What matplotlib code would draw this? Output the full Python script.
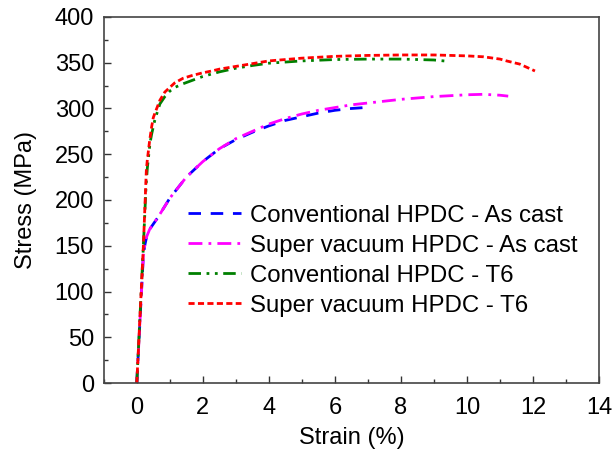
import matplotlib
matplotlib.use("Agg")
import matplotlib.pyplot as plt
from matplotlib.ticker import MultipleLocator

plt.rcParams['font.family'] = ['Liberation Sans', 'DejaVu Sans']

conv_cast_x = [0, 0.1, 0.2, 0.24, 0.3, 0.39, 0.64, 1.0, 1.5, 2.0, 2.5, 3.0, 3.5, 4.0, 4.5, 5.0, 5.5, 6.0, 6.5, 6.9]
conv_cast_y = [0, 70, 140, 150, 160, 168, 181, 202, 225, 242, 256, 266, 274, 281, 287, 291, 295, 298, 300, 301]

sv_cast_x = [0, 0.1, 0.2, 0.24, 0.3, 0.39, 0.64, 1.0, 1.5, 2.0, 2.5, 3.0, 3.5, 4.0, 4.5, 5.0, 5.5, 6.0, 6.5, 7.0,
             7.5, 8.0, 8.5, 9.0, 9.5, 10.0, 10.5, 11.0, 11.25]
sv_cast_y = [0, 70, 140, 150, 160, 168, 181, 202, 225, 242, 256, 267, 275, 283, 289, 294, 298, 301, 304, 306,
             308, 310, 311.5, 313, 314, 315, 315.5, 314.5, 313.5]

conv_t6_x = [0, 0.1, 0.2, 0.28, 0.32, 0.4, 0.45, 0.55, 0.7, 0.85, 1.0, 1.15, 1.4, 1.7, 2.0, 2.5, 3.0, 3.5, 4.0,
             5.0, 6.0, 7.0, 8.0, 9.0, 9.45]
conv_t6_y = [0, 75, 150, 215, 235, 262, 272, 288, 305, 313, 319, 323, 327, 331, 335, 340, 344, 347, 349.5,
             352, 353.5, 354, 354, 353, 351.5]

sv_t6_x = [0, 0.1, 0.2, 0.29, 0.32, 0.39, 0.45, 0.5, 0.55, 0.7, 0.85, 1.0, 1.15, 1.4, 1.67, 2.0, 2.27, 2.5, 3.0,
           3.5, 4.0, 5.0, 6.0, 7.0, 8.0, 8.5, 9.0, 9.5, 10.0, 10.5, 11.0, 11.2, 11.6, 12.06]
sv_t6_y = [0, 75, 150, 233, 244, 265, 280, 290, 295, 309, 318, 323, 328, 333, 336, 339, 341, 343, 346,
           349, 352, 355, 357, 358, 358.5, 358.5, 358.5, 358, 357.5, 356.5, 354, 352, 348.5, 341]

labels = ["Conventional HPDC - As cast", "Super vacuum HPDC - As cast",
          "Conventional HPDC - T6", "Super vacuum HPDC - T6"]

fig = plt.figure(figsize=(6.14, 4.53), dpi=100)
ax = fig.add_axes([0.169, 0.1545, 0.8066, 0.808])

lw = 2.0
ax.plot(conv_cast_x, conv_cast_y, color='#0000ff', lw=lw, dashes=(4.5, 3.5), label=labels[0])
ax.plot(sv_cast_x, sv_cast_y, color='#ff00ff', lw=lw, dashes=(5, 2.2, 1, 2.2), label=labels[1])
ax.plot(conv_t6_x, conv_t6_y, color='#008000', lw=lw, dashes=(4.5, 2, 1, 2, 1, 2), label=labels[2])
ax.plot(sv_t6_x, sv_t6_y, color='#ff0000', lw=lw, dashes=(2.2, 1.2), label=labels[3])

ax.set_xlim(-1, 14)
ax.set_ylim(0, 400)
ax.xaxis.set_major_locator(MultipleLocator(2))
ax.xaxis.set_minor_locator(MultipleLocator(1))
ax.yaxis.set_major_locator(MultipleLocator(50))
ax.yaxis.set_minor_locator(MultipleLocator(25))
ax.tick_params(which='both', direction='in', top=False, right=False, labelsize=17, color='#333333', width=1.0)
ax.tick_params(axis='x', which='major', length=5, pad=10)
ax.tick_params(axis='y', which='major', length=5, pad=7)
ax.tick_params(which='minor', length=3)
for s in ax.spines.values():
    s.set_color('#444444')
    s.set_linewidth(1.2)

ax.set_xlabel('Strain (%)', fontsize=17, labelpad=6)
ax.set_ylabel('Stress (MPa)', fontsize=17, labelpad=13)

ax.legend(loc='upper left', bbox_to_anchor=(0.17, 0.487), frameon=False, fontsize=17.3,
          handlelength=2.2, handletextpad=0.4, labelspacing=0.33, borderpad=0, borderaxespad=0)

fig.savefig('out.png', dpi=100)
